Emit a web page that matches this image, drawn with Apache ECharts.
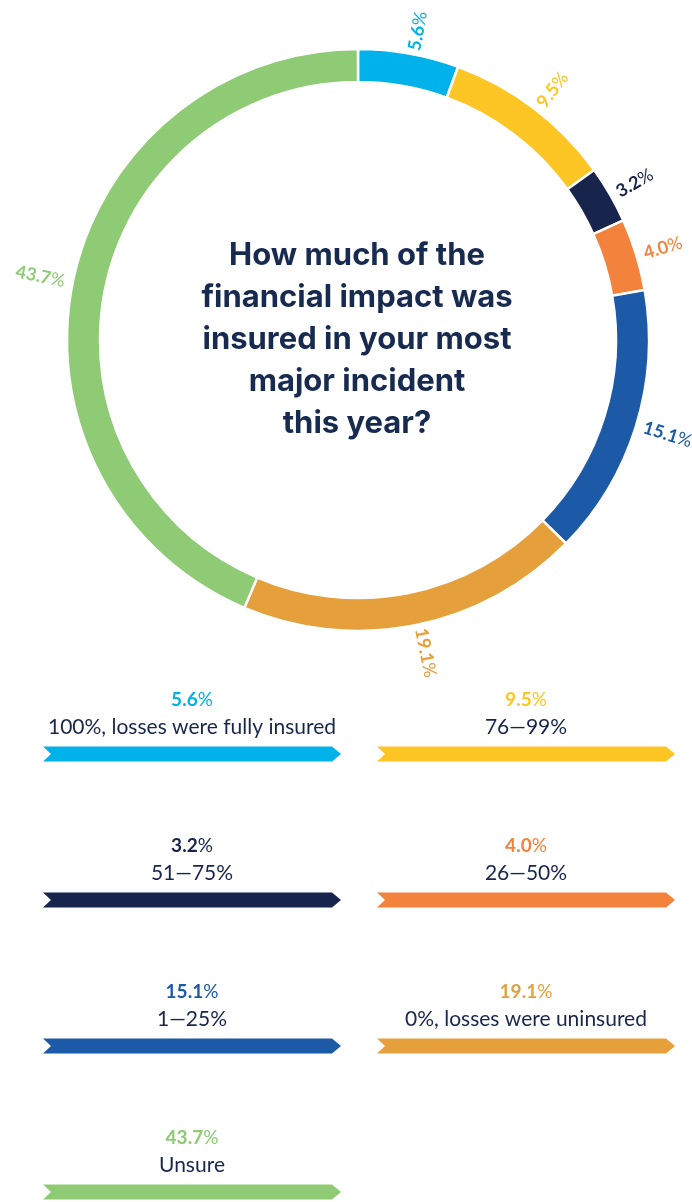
<!DOCTYPE html>
<html>
<head>
<meta charset="utf-8">
<script src="https://cdn.jsdelivr.net/npm/echarts@6/dist/echarts.min.js"></script>
<style>
html,body{margin:0;padding:0;background:#fff;}
#main{width:692px;height:1202px;}
</style>
</head>
<body>
<div id="main"></div>
<script>
var categories = ['100%, losses were fully insured', '76—99%', '51—75%', '26—50%', '1—25%', '0%, losses were uninsured', 'Unsure'];
var values = [5.6, 9.5, 3.2, 4.0, 15.1, 19.1, 43.7];
var colors = ['#00b1ea', '#fec624', '#17254c', '#f2823c', '#1c59a7', '#e5a03b', '#8ecb74'];
var titleLines = ['How much of the', 'financial impact was', 'insured in your most', 'major incident', 'this year?'];

var navy = '#18264d';
var chart = echarts.init(document.getElementById('main'), null, {renderer: 'canvas'});

var pieData = categories.map(function (c, i) {
  return {
    name: c, value: values[i],
    itemStyle: {color: colors[i]},
    label: {color: colors[i]}
  };
});

var graphics = [];
graphics.push({
  type: 'text',
  x: 357, y: 340,
  style: {
    text: titleLines.join('\n'),
    font: 'bold 31px Inter',
    fill: '#172a4f',
    align: 'center', verticalAlign: 'middle',
    lineHeight: 42
  }
});

var colCenters = [192, 526];
var colLeft = [43, 377];
var barW = 298;
categories.forEach(function (c, i) {
  var col = i % 2, row = Math.floor(i / 2);
  var base = 700 + row * 146;
  graphics.push({
    type: 'text', x: colCenters[col], y: base,
    style: {
      text: '{n|' + values[i].toFixed(1) + '}{p|%}',
      align: 'center', verticalAlign: 'middle',
      rich: {
        n: {fontFamily: 'Lato', fontWeight: 'bold', fontSize: 19, fill: colors[i]},
        p: {fontFamily: 'Lato', fontWeight: 'normal', fontSize: 19, fill: colors[i]}
      }
    }
  });
  graphics.push({
    type: 'text', x: colCenters[col], y: base + 27,
    style: {
      text: c, font: 'normal 21px Lato', fill: navy,
      align: 'center', verticalAlign: 'middle'
    }
  });
  var x0 = colLeft[col], x1 = x0 + barW, cy = base + 54, h = 7.5;
  graphics.push({
    type: 'polygon',
    shape: {points: [[x0, cy - h], [x1 - 9, cy - h], [x1, cy], [x1 - 9, cy + h], [x0, cy + h], [x0 + 8, cy]]},
    style: {fill: colors[i]}
  });
});

chart.setOption({
  animation: false,
  backgroundColor: '#ffffff',
  graphic: graphics,
  series: [{
    type: 'pie',
    center: [358, 340],
    radius: [258, 291],
    startAngle: 90,
    clockwise: true,
    avoidLabelOverlap: false,
    itemStyle: {borderColor: '#ffffff', borderWidth: 2.5},
    label: {
      show: true,
      position: 'outside',
      rotate: 'radial',
      fontFamily: 'Lato',
      fontSize: 18,
      fontWeight: 'bold',
      formatter: function (p) { return '{n|' + p.value.toFixed(1) + '}{p|%}'; },
      rich: {
        n: {fontFamily: 'Lato', fontWeight: 'bold', fontSize: 18},
        p: {fontFamily: 'Lato', fontWeight: 'normal', fontSize: 18}
      }
    },
    labelLine: {show: false, length: 3, length2: 0},
    emphasis: {disabled: true},
    data: pieData
  }]
});
</script>
</body>
</html>
